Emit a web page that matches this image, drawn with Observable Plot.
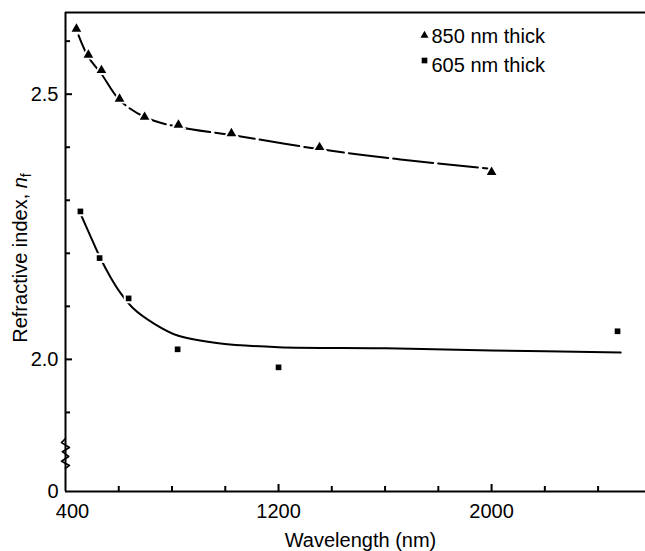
<!DOCTYPE html>
<html><head><meta charset="utf-8">
<script src="https://cdn.jsdelivr.net/npm/d3@7"></script>
<script src="https://cdn.jsdelivr.net/npm/@observablehq/plot@0.6"></script>
<style>body{margin:0;background:#fff} svg{display:block}</style>
</head><body><div id="chart"></div>
<script>
// 850 nm thick film (triangles)
const wl850 = [441, 486, 535, 603, 697, 824, 1023, 1354, 2000];
const n850  = [2.623, 2.574, 2.545, 2.491, 2.457, 2.442, 2.426, 2.400, 2.353];
// 605 nm thick film (squares)
const wl605 = [456, 528, 637, 821, 1200, 2473];
const n605  = [2.279, 2.191, 2.115, 2.019, 1.985, 2.053];
// fitted curves
const fit850Wl = [449, 486, 535, 603, 697, 824, 1023, 1358, 1658, 1985];
const fit850N  = [2.611, 2.570, 2.538, 2.489, 2.457, 2.438, 2.423, 2.396, 2.377, 2.360];
const fit605Wl = [456, 494, 528, 569, 607, 655, 731, 821, 982, 1200, 1602, 2000, 2485];
const fit605N  = [2.275, 2.232, 2.194, 2.155, 2.125, 2.096, 2.068, 2.045, 2.030, 2.023, 2.021, 2.017, 2.013];
// ticks
const xMajor = [1200, 2000];
const xMinor = [600, 800, 1000, 1400, 1600, 1800, 2200, 2400];
const yMajor = [0, 2.0, 2.5];
const yMajorLabels = ["0", "2.0", "2.5"];
const yMinor = [1.9, 2.1, 2.2, 2.3, 2.4, 2.6];
const legendLabels = ["850 nm thick", "605 nm thick"];
// axis-break zigzag
const breakWl = [400, 385, 415, 388, 412, 385, 415, 400];
const breakN  = [1.851, 1.843, 1.834, 1.826, 1.817, 1.808, 1.800, 1.592];

// broken y axis: values below 1.8 are squeezed into a short segment
const BREAK = 1.8, SQUEEZE = 0.04906, YTOP = 2.654;
const yBreak = v => v >= BREAK ? v : BREAK - (BREAK - v) * SQUEEZE / BREAK;

const W = 645, H = 551, ML = 65, MR = 0, MT = 12, MB = 60;
const FW = W - ML - MR, FH = H - MT - MB;

const pts850 = wl850.map((w, i) => ({w, n: n850[i]}));
const pts605 = wl605.map((w, i) => ({w, n: n605[i]}));
const fit850 = fit850Wl.map((w, i) => ({w, n: fit850N[i]}));
const fit605 = fit605Wl.map((w, i) => ({w, n: fit605N[i]}));
const breakPts = breakWl.map((w, i) => ({w, n: breakN[i]}));
const Y = d => yBreak(d.n);
const YLABEL = "Refractive index, n f";
const font = "'Liberation Sans', Arial, sans-serif";
const FS = 20;

const plot = Plot.plot({
  width: W, height: H,
  marginLeft: ML, marginRight: MR, marginTop: MT, marginBottom: MB,
  style: {fontFamily: font, fontSize: FS + "px", color: "#000", background: "#fff"},
  x: {domain: [400, 2578]},
  y: {domain: [yBreak(0), YTOP]},
  marks: [
    Plot.ruleY([YTOP], {strokeWidth: 2}),
    Plot.ruleY([yBreak(0)], {strokeWidth: 2}),
    Plot.ruleX([400], {strokeWidth: 2}),
    Plot.line(breakPts, {x: "w", y: Y, strokeWidth: 1.6}),
    // inward ticks
    Plot.ruleX(xMajor, {x: d => d, insetTop: FH - 7, strokeWidth: 2}),
    Plot.ruleX(xMinor, {x: d => d, insetTop: FH - 5, strokeWidth: 2}),
    Plot.ruleY(yMajor.slice(1), {y: d => yBreak(d), insetRight: FW - 7, strokeWidth: 2}),
    Plot.ruleY(yMinor, {y: d => yBreak(d), insetRight: FW - 5, strokeWidth: 2}),
    // tick labels
    Plot.axisX({ticks: xMajor, tickSize: 0, tickPadding: 12, tickFormat: d => String(d), label: null}),
    Plot.axisX({ticks: [400], tickSize: 0, tickPadding: 12, dx: 7, tickFormat: d => String(d), label: null}),
    Plot.axisY({ticks: yMajor.map(yBreak), tickSize: 0, tickPadding: 7, tickFormat: (d, i) => yMajorLabels[i], label: null}),
    // curves
    Plot.line(fit850, {x: "w", y: Y, curve: "catmull-rom", strokeWidth: 2, strokeDasharray: "40,5"}),
    Plot.line(fit605, {x: "w", y: Y, curve: "catmull-rom", strokeWidth: 2}),
    // markers
    Plot.dot(pts850, {x: "w", y: Y, symbol: "triangle", r: 6, fill: "white"}),
    Plot.dot(pts850, {x: "w", y: Y, symbol: "triangle", r: 3.6, fill: "black"}),
    Plot.dot(pts605, {x: "w", y: Y, symbol: "square", r: 5.5, fill: "white"}),
    Plot.dot(pts605, {x: "w", y: Y, symbol: "square", r: 3.2, fill: "black"}),
    // legend
    Plot.dot([legendLabels[0]], {frameAnchor: "top-left", dx: 359, dy: 23, symbol: "triangle", r: 3, fill: "black"}),
    Plot.dot([legendLabels[1]], {frameAnchor: "top-left", dx: 359, dy: 48, symbol: "square", r: 3.2, fill: "black"}),
    Plot.text([legendLabels[0]], {text: d => d, frameAnchor: "top-left", dx: 366, dy: 24.5, textAnchor: "start", lineAnchor: "middle", fontSize: FS}),
    Plot.text([legendLabels[1]], {text: d => d, frameAnchor: "top-left", dx: 366, dy: 53, textAnchor: "start", lineAnchor: "middle", fontSize: FS}),
    // axis titles
    Plot.text(["Wavelength (nm)"], {text: d => d, frameAnchor: "bottom", textAnchor: "middle", dx: 5, dy: 49, lineAnchor: "middle", fontSize: FS}),
    Plot.text([YLABEL], {text: d => d, frameAnchor: "left", textAnchor: "middle", dx: -45, dy: 6, rotate: -90, lineAnchor: "middle", fontSize: FS})
  ]
});
document.getElementById("chart").appendChild(plot);
plot.querySelectorAll("text").forEach(t => {
  if (t.textContent === YLABEL) {
    t.textContent = "Refractive index, ";
    const ns = "http://www.w3.org/2000/svg";
    const a = document.createElementNS(ns, "tspan");
    a.setAttribute("font-style", "italic");
    a.textContent = "n";
    const b = document.createElementNS(ns, "tspan");
    b.setAttribute("font-size", "14");
    b.setAttribute("dy", "4");
    b.textContent = "f";
    t.appendChild(a); t.appendChild(b);
  }
});
</script>
</body></html>
